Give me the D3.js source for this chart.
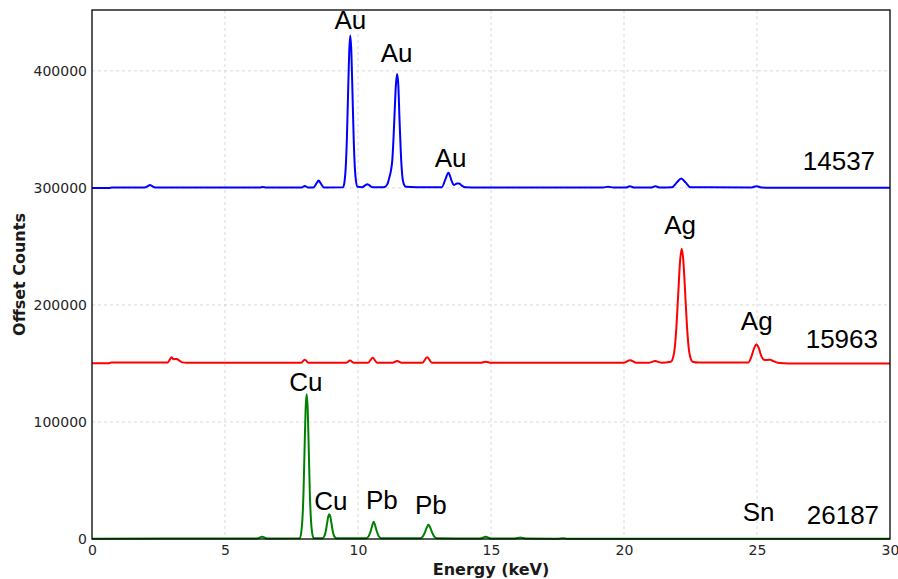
<!DOCTYPE html>
<html>
<head>
<meta charset="utf-8">
<script src="https://cdn.jsdelivr.net/npm/d3@7"></script>
<style>
  body { margin: 0; background: #fff; }
  .tick text { font-family: "DejaVu Sans", sans-serif; font-size: 14px; fill: #262626; }
  .grid line { stroke: #cfcfcf; stroke-dasharray: 3,3; stroke-width: 0.8; }
  .peak-label, .count-label { font-family: "Liberation Sans", Arial, sans-serif; fill: #000; }
  .axis-title { font-family: "DejaVu Sans", sans-serif; font-weight: bold; font-size: 16px; fill: #1a1a1a; }
</style>
</head>
<body>
<svg width="898" height="579"></svg>
<script>
// spectra: [energy keV, counts] before offset
var greenSpectrum = [
  [0,300],[5.0,400],[6.2,500],[6.4,1900],[6.58,500],
  [7.81,600],[7.87,6200],[7.91,17000],[7.95,38500],[7.99,75500],[8.03,110500],[8.07,123700],
  [8.11,110500],[8.15,75500],[8.19,38500],[8.23,17000],[8.27,6200],[8.33,800],
  [8.65,600],[8.71,1500],[8.75,3300],[8.79,6800],[8.835,13000],[8.88,19000],[8.92,21100],
  [8.96,19000],[9.005,13000],[9.05,6800],[9.09,3300],[9.13,1500],[9.2,600],
  [10.3,600],[10.4,2300],[10.48,7000],[10.54,12000],[10.59,14800],[10.64,12000],[10.7,7000],[10.78,2300],[10.88,600],
  [12.33,600],[12.44,2300],[12.53,6500],[12.59,10000],[12.65,12200],[12.71,10000],[12.77,6500],[12.86,2300],[12.97,600],
  [14.6,500],[14.8,2000],[15.0,500],[15.9,400],[16.1,1200],[16.3,400],
  [17.5,300],[17.7,600],[17.9,300],[30,300]
];
var redSpectrum = [
  [0,200],[0.62,200],[0.72,900],[2.0,900],[2.85,900],[2.93,3500],[2.99,5200],[3.07,3600],
  [3.18,3800],[3.28,2500],[3.4,900],[3.55,500],[5.0,500],
  [7.85,500],[8.0,3200],[8.15,500],[9.55,500],[9.7,2500],[9.85,500],
  [10.38,600],[10.55,4800],[10.72,600],[11.3,500],[11.47,2000],[11.64,500],
  [12.42,500],[12.6,5200],[12.78,500],[14.6,500],[14.8,1500],[15.0,500],
  [20.0,700],[20.23,2700],[20.45,700],[20.95,700],[21.17,2000],[21.4,700],
  [21.76,1500],[21.85,5500],[21.91,13800],[21.97,31000],[22.04,60000],[22.11,88000],[22.17,98000],
  [22.23,88000],[22.3,60000],[22.37,31000],[22.43,13800],[22.49,5500],[22.58,1500],[22.8,800],
  [24.68,900],[24.8,6500],[24.9,13500],[24.98,16400],[25.06,13500],[25.16,6500],[25.26,3200],
  [25.38,3000],[25.5,3200],[25.62,2000],[25.78,600],[26.2,0],[30,0]
];
var blueSpectrum = [
  [0,0],[0.65,0],[0.75,300],[1.98,300],[2.1,1500],[2.18,2500],[2.26,1500],[2.38,300],
  [6.3,300],[6.42,700],[6.54,300],[7.88,300],[8.0,1600],[8.12,300],
  [8.32,300],[8.44,3800],[8.52,6300],[8.6,3800],[8.72,400],
  [9.44,500],[9.5,6600],[9.54,18000],[9.58,40500],[9.625,79000],[9.67,116500],[9.71,130300],
  [9.75,116500],[9.795,79000],[9.84,40500],[9.88,18000],[9.92,6600],[9.98,1000],
  [10.15,600],[10.27,2200],[10.35,3200],[10.43,2200],[10.55,500],[10.9,500],
  [11.0,800],[11.1,3000],[11.18,9000],[11.24,15000],[11.29,24000],[11.33,40000],[11.38,66000],
  [11.425,88000],[11.47,97400],[11.515,88000],[11.56,59000],[11.61,30000],[11.66,11500],
  [11.72,3500],[11.8,1000],[12.2,600],
  [13.15,600],[13.28,7000],[13.4,13000],[13.52,6000],[13.6,2500],[13.72,3700],[13.8,3800],
  [13.9,2000],[14.05,500],[14.5,300],[19.2,300],[19.4,1000],[19.6,300],
  [20.05,300],[20.22,1300],[20.4,300],[21.0,300],[21.18,1300],[21.36,300],
  [21.8,500],[21.98,4500],[22.15,8000],[22.32,4500],[22.5,600],
  [24.8,400],[24.98,1500],[25.16,400],[25.5,200],[30,200]
];

var spectra = [greenSpectrum, redSpectrum, blueSpectrum];
var offsets = [0, 150000, 300000];
var colors = ["#008000", "#ff0000", "#0000ff"];

// element labels: text, energy, absolute counts at baseline
var labelText   = ["Au", "Au", "Au", "Ag", "Ag", "Cu", "Cu", "Pb", "Pb", "Sn"];
var labelEnergy = [9.71, 11.45, 13.48, 22.11, 24.99, 8.04, 8.98, 10.9, 12.74, 25.06];
var labelCounts = [435900, 407700, 318200, 260700, 178600, 126800, 24800, 25600, 21400, 15400];

// count totals shown at the right end of each spectrum
var countText   = ["26187", "15963", "14537"];
var countEnergy = [29.59, 29.55, 29.44];
var countCounts = [12560, 163250, 315400];

var xTicks = [0, 5, 10, 15, 20, 25, 30];
var yTicks = [0, 100000, 200000, 300000, 400000];

var svg = d3.select("svg"),
    margin = {top: 10, right: 8, bottom: 40, left: 92},
    width = +svg.attr("width") - margin.left - margin.right,
    height = +svg.attr("height") - margin.top - margin.bottom;

var x = d3.scaleLinear().domain([0, 30]).range([0, width]);
var y = d3.scaleLinear().domain([0, 452000]).range([height, 0]);

var g = svg.append("g").attr("transform", "translate(" + margin.left + "," + margin.top + ")");

// dashed grid
g.append("g").attr("class", "grid")
  .selectAll("line").data(xTicks.slice(1, -1)).enter().append("line")
    .attr("x1", function(d) { return x(d); }).attr("x2", function(d) { return x(d); })
    .attr("y1", 0).attr("y2", height);
g.append("g").attr("class", "grid")
  .selectAll("line").data(yTicks.slice(1)).enter().append("line")
    .attr("x1", 0).attr("x2", width)
    .attr("y1", function(d) { return y(d); }).attr("y2", function(d) { return y(d); });

// axes, tick marks hidden like the original
var xAxis = g.append("g").attr("transform", "translate(0," + height + ")")
  .call(d3.axisBottom(x).tickValues(xTicks).tickSize(0).tickPadding(6).tickFormat(d3.format("d")));
var yAxis = g.append("g")
  .call(d3.axisLeft(y).tickValues(yTicks).tickSize(0).tickPadding(5).tickFormat(d3.format("d")));
xAxis.select(".domain").remove();
yAxis.select(".domain").remove();

// spectra
var line = d3.line()
    .x(function(d) { return x(d[0]); })
    .curve(d3.curveMonotoneX);

spectra.forEach(function(s, i) {
  g.append("path")
    .datum(s)
    .attr("fill", "none")
    .attr("stroke", colors[i])
    .attr("stroke-width", 2)
    .attr("stroke-linejoin", "round")
    .attr("d", line.y(function(d) { return y(d[1] + offsets[i]); }));
});

// frame
g.append("rect")
  .attr("width", width).attr("height", height)
  .attr("fill", "none").attr("stroke", "#000").attr("stroke-width", 1.3);

// labels
g.selectAll(".peak-label")
  .data(labelText).enter().append("text")
    .attr("class", "peak-label")
    .attr("x", function(d, i) { return x(labelEnergy[i]); })
    .attr("y", function(d, i) { return y(labelCounts[i]); })
    .attr("text-anchor", "middle")
    .attr("font-size", 26)
    .text(function(d) { return d; });

g.selectAll(".count-label")
  .data(countText).enter().append("text")
    .attr("class", "count-label")
    .attr("x", function(d, i) { return x(countEnergy[i]); })
    .attr("y", function(d, i) { return y(countCounts[i]); })
    .attr("text-anchor", "end")
    .attr("font-size", 26)
    .text(function(d) { return d; });

// axis titles
svg.append("text")
  .attr("class", "axis-title")
  .attr("x", margin.left + width / 2)
  .attr("y", 575)
  .attr("text-anchor", "middle")
  .text("Energy (keV)");

svg.append("text")
  .attr("class", "axis-title")
  .attr("transform", "translate(25," + (margin.top + height / 2) + ") rotate(-90)")
  .attr("text-anchor", "middle")
  .text("Offset Counts");
</script>
</body>
</html>
